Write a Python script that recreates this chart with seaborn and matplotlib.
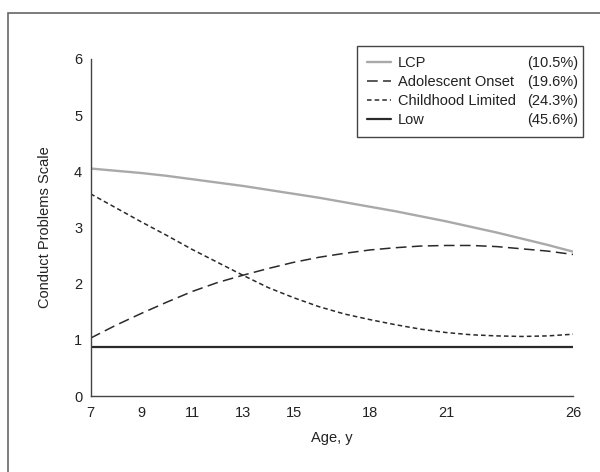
import matplotlib
matplotlib.use("Agg")
import matplotlib.pyplot as plt
import seaborn as sns
import pandas as pd
from matplotlib.patches import Rectangle

ages = [7, 8, 9, 10, 11, 12, 13, 14, 15, 16, 17, 18, 19, 20, 21, 22, 23, 24, 25, 26]
lcp = [4.05, 4.01, 3.97, 3.92, 3.86, 3.80, 3.74, 3.67, 3.60, 3.53, 3.45, 3.37, 3.29, 3.20, 3.11, 3.01, 2.91, 2.80, 2.69, 2.57]
adolescent = [1.03, 1.26, 1.47, 1.67, 1.86, 2.02, 2.15, 2.27, 2.38, 2.47, 2.54, 2.60, 2.64, 2.67, 2.68, 2.68, 2.66, 2.62, 2.58, 2.52]
childhood = [3.60, 3.35, 3.10, 2.86, 2.61, 2.38, 2.15, 1.93, 1.75, 1.59, 1.46, 1.36, 1.27, 1.19, 1.13, 1.09, 1.07, 1.06, 1.07, 1.10]
low = [0.87] * 20

groups = ["LCP", "Adolescent Onset", "Childhood Limited", "Low"]
shares = ["(10.5%)", "(19.6%)", "(24.3%)", "(45.6%)"]
xticks = [7, 9, 11, 13, 15, 18, 21, 26]
yticks = [0, 1, 2, 3, 4, 5, 6]

sns.set_style("white")
plt.rcParams['font.family'] = ['Liberation Sans Narrow', 'Liberation Sans', 'DejaVu Sans']
plt.rcParams['font.size'] = 10

fig = plt.figure(figsize=(6.0, 4.72), dpi=100)
ax = fig.add_axes([90.5 / 600, 76 / 472, (573 - 90.5) / 600, (396 - 59) / 472])

df = pd.DataFrame({"Age": ages * 4,
                   "Value": lcp + adolescent + childhood + low,
                   "Group": sum([[g] * len(ages) for g in groups], [])})

styles = {
    "LCP": dict(color="#a9a9a9", linewidth=1.7, linestyle="-"),
    "Adolescent Onset": dict(color="#2a2a2a", linewidth=1.1, dashes=(7, 3.5)),
    "Childhood Limited": dict(color="#2a2a2a", linewidth=1.1, dashes=(3, 2)),
    "Low": dict(color="#2a2a2a", linewidth=1.6, linestyle="-"),
}
for g in groups:
    sub = df[df["Group"] == g]
    sns.lineplot(data=sub, x="Age", y="Value", ax=ax, label=g, **styles[g])

ax.set_xlim(7, 26)
ax.set_ylim(0, 6)
ax.set_xticks(xticks)
ax.set_xticklabels([str(t) for t in xticks])
ax.set_yticks(yticks)
ax.set_yticklabels([str(t) for t in yticks])
for s in ["top", "right"]:
    ax.spines[s].set_visible(False)
for s in ["left", "bottom"]:
    ax.spines[s].set_color("#444444")
    ax.spines[s].set_linewidth(1.0)
ax.tick_params(axis="both", direction="out", length=4, width=1, color="#444444",
               labelsize=10.5, labelcolor="#222222", pad=2)
ax.tick_params(axis="x", pad=3)
ax.set_xlabel("Age, y", fontsize=10.5, color="#222222", labelpad=8)
ax.set_ylabel("Conduct Problems Scale", fontsize=10.5, color="#222222", labelpad=16)

x0 = 357 / 600
x1 = 583 / 600
ytop = 1 - 46 / 472
ybot = 1 - 135 / 472
leg = ax.legend(loc="upper left", bbox_to_anchor=(x0, ybot, x1 - x0, ytop - ybot),
                bbox_transform=fig.transFigure, mode="expand", ncol=1,
                frameon=True, fancybox=False, shadow=False, framealpha=1,
                edgecolor="#444444", fontsize=10.5, handlelength=1.6,
                handletextpad=0.5, labelspacing=0.33, borderpad=0.7,
                borderaxespad=0)
leg.get_frame().set_linewidth(1.0)
for t in leg.get_texts():
    t.set_color("#222222")

fig.canvas.draw()
renderer = fig.canvas.get_renderer()
frame_bb = leg.get_frame().get_window_extent(renderer)
for t, s in zip(leg.get_texts(), shares):
    bb = t.get_window_extent(renderer)
    yc = (bb.y0 + bb.y1) / 2
    fx, fy = fig.transFigure.inverted().transform((frame_bb.x1 - 5, yc))
    fig.text(fx, fy, s, ha="right", va="center", fontsize=10.5, color="#222222")

fig.add_artist(Rectangle((8 / 600, -0.2), 1.5, 1.2 - 13 / 472, transform=fig.transFigure,
                         fill=False, edgecolor="#666666", linewidth=1.2, clip_on=False))

fig.savefig("out.png", dpi=100)
